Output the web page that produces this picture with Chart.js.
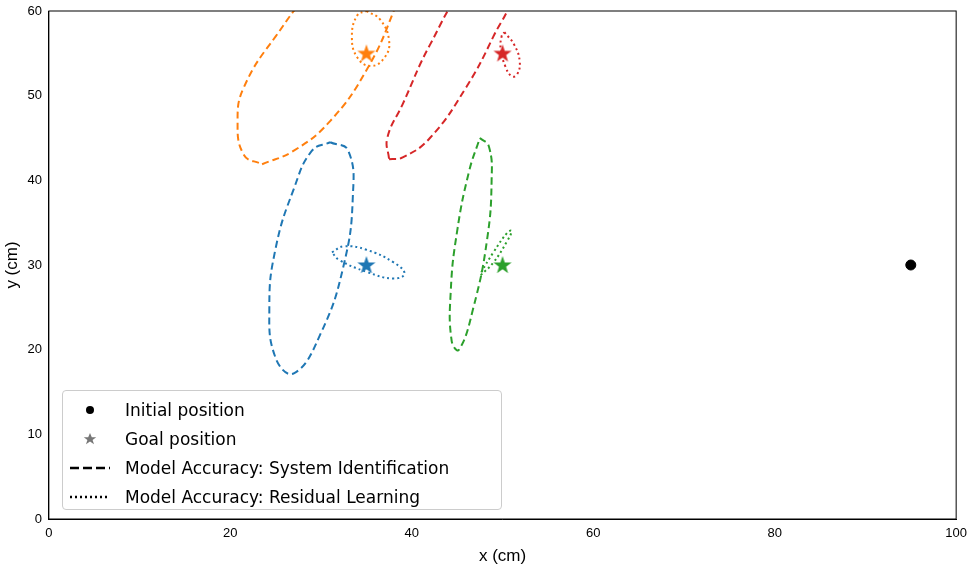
<!DOCTYPE html>
<html>
<head>
<meta charset="utf-8">
<script src="https://cdn.jsdelivr.net/npm/chart.js@4.4.0/dist/chart.umd.min.js"></script>
<style>
  body { margin: 0; background: #fff; font-family: "DejaVu Sans", sans-serif; }
  #wrap { position: relative; width: 970px; height: 569px; }
  #legend { position: absolute; left: 62px; top: 390px; width: 440px; height: 120px;
    border: 1px solid #ccc; border-radius: 4px; background: rgba(255,255,255,0.8);
    font-size: 17px; color: #000; box-sizing: border-box; padding: 4px 0 0 6px; }
  .row { height: 29px; display: flex; align-items: center; }
  .key { width: 42px; height: 20px; margin-right: 14px; position: relative; }
</style>
</head>
<body>
<div id="wrap">
  <canvas id="chart" width="970" height="569"></canvas>
  <div id="legend">
    <div class="row"><span class="key"><svg width="42" height="20"><circle cx="21" cy="10" r="4" fill="#000"/></svg></span>Initial position</div>
    <div class="row"><span class="key"><svg width="42" height="20"><polygon points="21,4 22.8,8.2 27.2,8.2 23.6,10.9 25,15.3 21,12.6 17,15.3 18.4,10.9 14.8,8.2 19.2,8.2" fill="#777"/></svg></span>Goal position</div>
    <div class="row"><span class="key"><svg width="42" height="20"><line x1="1" y1="10" x2="41" y2="10" stroke="#000" stroke-width="2.5" stroke-dasharray="9,4"/></svg></span>Model Accuracy: System Identification</div>
    <div class="row"><span class="key"><svg width="42" height="20"><line x1="1" y1="10" x2="41" y2="10" stroke="#000" stroke-width="2.5" stroke-dasharray="2,3"/></svg></span>Model Accuracy: Residual Learning</div>
  </div>
</div>
<script>
// --- data ---
const colors = ['#1f77b4', '#ff7f0e', '#d62728', '#2ca02c'];
const goals = [[35, 30], [35, 55], [50, 55], [50, 30]];
const initialPos = [[95, 30]];

// outlines of each uncertainty ellipse (x, y in cm)
const sysIdBlue = [[31,44.5],[33,43.5],[33.5,38],[32.5,30],[30,22],[27,17.2],[25,19],[24.3,25],[25,32],[27,39],[29,43.5]];
const residualBlue = [[31.2,31.5],[32.5,32.2],[35,31.8],[38,30.3],[39.2,29],[38,28.4],[35,29.2],[32,30.6]];
const sysIdOrange = [[23.5,41.9],[27,43.5],[31,47],[35,53],[38,60],[39,64],[36,66],[29,62],[25,57],[21.5,51],[20.8,47],[21.5,43]];
const residualOrange = [[35,60],[36.5,59],[37.5,56.5],[37,54.5],[35.5,53.5],[34,54.5],[33.4,57],[34,59.5]];
const sysIdRed = [[37.5,42.5],[39,42.7],[42,45],[46,51],[49,57],[51,62],[50,66],[46,63],[42,56],[39,49],[37.3,45]];
const residualRed = [[50.2,57.5],[51.3,56],[51.9,54],[51.6,52.5],[51,52.3],[50.3,53.5],[49.8,55.5],[49.9,57]];
const sysIdGreen = [[47.5,45],[48.5,44],[48.8,40],[48.3,33],[46.8,25],[45.2,20],[44.4,21],[44.3,27],[45,34],[46.3,41]];
const residualGreen = [[47.6,28.8],[49,30.3],[50.5,32.8],[51,34],[50.6,33.9],[49,31.5],[47.7,29.2]];

const sysIdSets = [sysIdBlue, sysIdOrange, sysIdRed, sysIdGreen];
const residualSets = [residualBlue, residualOrange, residualRed, residualGreen];

const xTicks = [0, 20, 40, 60, 80, 100];
const yTicks = [0, 10, 20, 30, 40, 50, 60];

// filled star marker
function starImage(color) {
  const c = document.createElement('canvas');
  c.width = 20; c.height = 20;
  const g = c.getContext('2d');
  g.beginPath();
  for (let i = 0; i < 10; i++) {
    const r = i % 2 === 0 ? 9.5 : 3.8;
    const a = -Math.PI / 2 + i * Math.PI / 5;
    g.lineTo(10 + r * Math.cos(a), 10.5 + r * Math.sin(a));
  }
  g.closePath();
  g.fillStyle = color;
  g.fill();
  return c;
}

const toPts = arr => arr.map(p => ({ x: p[0], y: p[1] }));
const datasets = [];
colors.forEach((col, i) => {
  datasets.push({ data: toPts(sysIdSets[i]), showLine: true, borderColor: col, borderWidth: 2,
    borderDash: [7, 4], tension: 0.45, pointRadius: 0, fill: false, spanGaps: true });
  datasets.push({ data: toPts(residualSets[i]), showLine: true, borderColor: col, borderWidth: 2,
    borderDash: [2, 3], tension: 0.45, pointRadius: 0, fill: false });
  datasets.push({ data: toPts([goals[i]]), pointStyle: starImage(col), pointRadius: 10, showLine: false });
});
datasets.push({ data: toPts(initialPos), pointRadius: 5, backgroundColor: '#000', borderColor: '#000', showLine: false });

// close each ellipse outline by repeating its first point
datasets.forEach(d => { if (d.showLine) d.data.push({ ...d.data[0] }); });

const frame = {
  id: 'frame',
  afterDatasetsDraw(chart) {
    const { ctx, chartArea: a } = chart;
    ctx.save();
    ctx.strokeStyle = '#000';
    ctx.lineWidth = 1;
    ctx.strokeRect(a.left, a.top, a.right - a.left, a.bottom - a.top);
    ctx.restore();
  }
};

new Chart(document.getElementById('chart'), {
  type: 'scatter',
  data: { datasets },
  options: {
    responsive: false,
    animation: false,
    layout: { padding: { top: 5, right: 12 } },
    plugins: { legend: { display: false }, tooltip: { enabled: false } },
    scales: {
      x: {
        min: 0, max: 100,
        afterBuildTicks: s => { s.ticks = xTicks.map(v => ({ value: v })); },
        grid: { display: false, drawTicks: true, tickLength: 4 },
        border: { color: '#000' },
        ticks: { color: '#000', font: { size: 13 } },
        title: { display: true, text: 'x (cm)', color: '#000', font: { size: 17 }, padding: 2 }
      },
      y: {
        min: 0, max: 60,
        afterBuildTicks: s => { s.ticks = yTicks.map(v => ({ value: v })); },
        grid: { display: false, tickLength: 4 },
        border: { color: '#000' },
        ticks: { color: '#000', font: { size: 13 } },
        title: { display: true, text: 'y (cm)', color: '#000', font: { size: 17 }, padding: 2 }
      }
    }
  },
  plugins: [frame]
});
</script>
</body>
</html>
